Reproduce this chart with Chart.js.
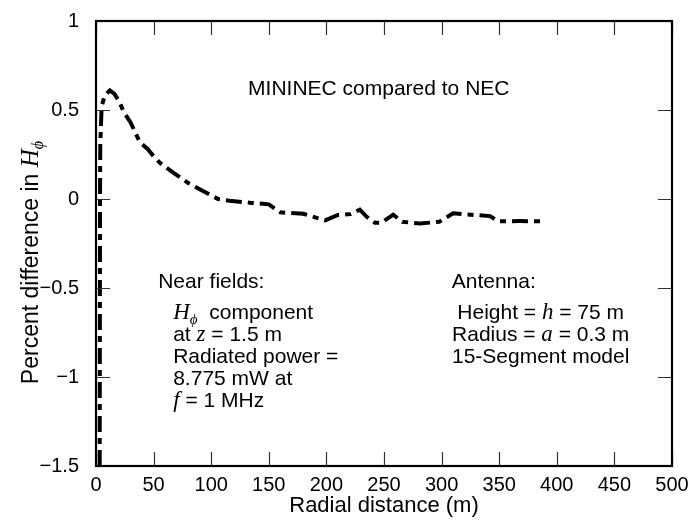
<!DOCTYPE html>
<html><head><meta charset="utf-8">
<script src="https://cdn.jsdelivr.net/npm/chart.js@4/dist/chart.umd.min.js"></script>
<style>html,body{margin:0;padding:0;background:#fff;}#wrap{width:690px;height:522px;}</style>
</head><body><div id="wrap"><canvas id="c" width="690" height="522"></canvas></div>
<script>
// ---- data ----
const radialDistance = [3.2, 3.3, 3.4, 3.5, 3.7, 4.9, 7.5, 12, 16, 20, 24, 30, 38, 45, 50, 56, 67, 80, 90, 100, 106, 116, 135, 150, 160, 180, 199, 210, 221, 229, 235, 242, 248, 258, 266, 281, 298, 310, 322, 342, 349, 368, 388];
const percentDiff   = [-1.5, -1.0, -0.5, 0, 0.3, 0.52, 0.58, 0.61, 0.59, 0.55, 0.49, 0.43, 0.32, 0.28, 0.24, 0.2, 0.148, 0.09, 0.055, 0.02, 0, -0.01, -0.022, -0.03, -0.075, -0.083, -0.12, -0.09, -0.085, -0.06, -0.1, -0.133, -0.133, -0.088, -0.128, -0.138, -0.128, -0.08, -0.087, -0.096, -0.125, -0.124, -0.125];
const xTicks = [0, 50, 100, 150, 200, 250, 300, 350, 400, 450, 500];
const yTicks = [-1.5, -1, -0.5, 0, 0.5, 1];

const SANS = '"Liberation Sans", Arial, Helvetica, sans-serif';
const SERIF = '"Liberation Serif", "DejaVu Serif", serif';
const TXT = '21px ' + SANS;
const MATH = 'italic 23px ' + SERIF;
const SUB = 'italic 15px ' + SERIF;
const TTL = '23px ' + SANS;
const TMATH = 'italic 25px ' + SERIF;
const TSUB = 'italic 16px ' + SERIF;

function fmt(v) {
  if (v === 0) return '0';
  return (v < 0 ? '\u2212' : '') + String(Math.abs(v));
}

// runs: [text, font, dy]
function drawRuns(ctx, x, y, runs, align) {
  let w = 0;
  runs.forEach(r => { ctx.font = r[1]; w += ctx.measureText(r[0]).width; });
  let cx = align === 'center' ? x - w / 2 : x;
  ctx.textAlign = 'left';
  ctx.textBaseline = 'alphabetic';
  runs.forEach(r => { ctx.font = r[1]; ctx.fillText(r[0], cx, y + (r[2] || 0)); cx += ctx.measureText(r[0]).width; });
}

const annotations = [
  {x: 132, y: 0.583, align: 'left', runs: [['MININEC compared to NEC', TXT]]},
  {x: 54, y: -0.5, align: 'left', runs: [['Near fields:', TXT]]},
  {x: 67, y: -0.672, align: 'left', runs: [['H', MATH], ['\u03D5', SUB, 5], ['  component', TXT]]},
  {x: 67, y: -0.796, align: 'left', runs: [['at ', TXT], ['z', MATH], [' = 1.5 m', TXT]]},
  {x: 67, y: -0.920, align: 'left', runs: [['Radiated power =', TXT]]},
  {x: 67, y: -1.044, align: 'left', runs: [['8.775 mW at', TXT]]},
  {x: 67, y: -1.168, align: 'left', runs: [['f', MATH], [' = 1 MHz', TXT]]},
  {x: 308.8, y: -0.5, align: 'left', runs: [['Antenna:', TXT]]},
  {x: 386, y: -0.672, align: 'center', runs: [['Height = ', TXT], ['h', MATH], [' = 75 m', TXT]]},
  {x: 386, y: -0.796, align: 'center', runs: [['Radius = ', TXT], ['a', MATH], [' = 0.3 m', TXT]]},
  {x: 386, y: -0.920, align: 'center', runs: [['15-Segment model', TXT]]}
];

const framePlugin = {
  id: 'frameTicks',
  afterDraw(chart) {
    const {ctx, chartArea: a, scales: {x, y}} = chart;
    const TL = 14;
    ctx.save();
    ctx.strokeStyle = '#333';
    ctx.lineWidth = 1.2;
    ctx.beginPath();
    xTicks.forEach(v => {
      const px = Math.round(x.getPixelForValue(v)) + 0.5;
      ctx.moveTo(px, a.bottom); ctx.lineTo(px, a.bottom - TL);
      ctx.moveTo(px, a.top); ctx.lineTo(px, a.top + TL);
    });
    yTicks.forEach(v => {
      const py = Math.round(y.getPixelForValue(v)) + 0.5;
      ctx.moveTo(a.left, py); ctx.lineTo(a.left + TL, py);
      ctx.moveTo(a.right, py); ctx.lineTo(a.right - TL, py);
    });
    ctx.stroke();
    ctx.strokeStyle = '#000';
    ctx.lineWidth = 2.2;
    ctx.strokeRect(a.left, a.top, a.right - a.left, a.bottom - a.top);

    // annotations in data coordinates
    ctx.fillStyle = '#000';
    annotations.forEach(an => {
      drawRuns(ctx, x.getPixelForValue(an.x), y.getPixelForValue(an.y), an.runs, an.align);
    });

    // y axis title with math symbol
    ctx.save();
    ctx.translate(38, (a.top + a.bottom) / 2 + 19);
    ctx.rotate(-Math.PI / 2);
    drawRuns(ctx, 0, 0, [['Percent difference in ', TTL], ['H', TMATH], ['\u03D5', TSUB, 5]], 'center');
    ctx.restore();
    ctx.restore();
  }
};

const points = radialDistance.map((d, i) => ({x: d, y: percentDiff[i]}));

new Chart(document.getElementById('c'), {
  type: 'scatter',
  data: {datasets: [{
    data: points,
    showLine: true,
    borderColor: '#000',
    borderWidth: 4,
    borderDash: [16, 6, 6, 6],
    pointRadius: 0,
    tension: 0,
    fill: false
  }]},
  options: {
    responsive: false,
    animation: false,
    layout: {padding: {left: 0, right: 18, top: 17, bottom: 0}},
    plugins: {legend: {display: false}, tooltip: {enabled: false}},
    scales: {
      x: {
        type: 'linear', min: 0, max: 500,
        afterBuildTicks: s => { s.ticks = xTicks.map(v => ({value: v})); },
        afterFit: s => { s.height = 56; },
        grid: {display: false},
        border: {display: false},
        ticks: {color: '#000', font: {family: SANS, size: 20}, padding: -1, maxRotation: 0, autoSkip: false, callback: v => fmt(v)},
        title: {display: true, text: 'Radial distance (m)', color: '#000', font: {family: SANS, size: 22}, padding: {top: 0, bottom: 3}}
      },
      y: {
        type: 'linear', min: -1.5, max: 1,
        afterBuildTicks: s => { s.ticks = yTicks.map(v => ({value: v})); },
        afterFit: s => { s.width = 96; },
        grid: {display: false},
        border: {display: false},
        ticks: {color: '#000', font: {family: SANS, size: 20}, padding: 9, autoSkip: false, callback: v => fmt(v)}
      }
    }
  },
  plugins: [framePlugin]
});
</script>
</body></html>
